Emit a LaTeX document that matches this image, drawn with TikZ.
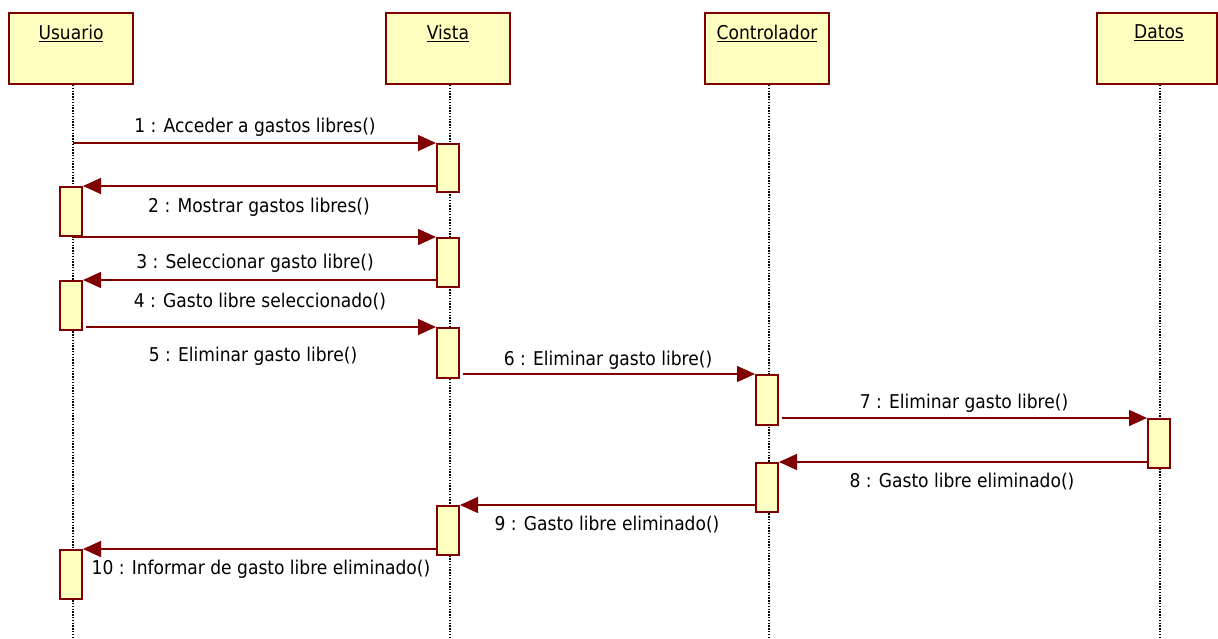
\documentclass[tikz,border=0pt]{standalone}
\usepackage{fontspec}
\setmainfont{DejaVu Sans Condensed}
\usetikzlibrary{arrows.meta}
\definecolor{umlred}{RGB}{128,0,0}
\definecolor{umlfill}{RGB}{255,255,192}
\begin{document}
\begin{tikzpicture}[x=1pt,y=-1pt,
  font=\fontsize{19}{22}\selectfont,
  head/.style={draw=umlred, fill=umlfill, line width=2pt, rectangle, inner sep=0pt,
               minimum width=124pt, minimum height=71pt, anchor=north},
  act/.style={draw=umlred, fill=umlfill, line width=2pt, rectangle, inner sep=0pt,
              minimum width=22pt, anchor=north},
  life/.style={line width=1.3pt, dash pattern=on 1.4pt off 1.4pt},
  msg/.style={draw=umlred, line width=1.5pt, -{Triangle[length=18pt,width=16pt]}, color=umlred},
  msglbl/.style={inner sep=0pt, anchor=center, text=black}]
\useasboundingbox (0,0) rectangle (1218,639);

% lifeline heads
\node[head] (usuario) at (71,12) {};
\node[head] (vista) at (448,12) {};
\node[head] (controlador) at (767,12) {};
\node[head, minimum width=120pt] (datos) at (1157,12) {};
\node[msglbl] (usuarioT) at (71,33) {\underline{Usuario}};
\node[msglbl] (vistaT) at (448,33) {\underline{Vista}};
\node[msglbl] (controladorT) at (767,33) {\underline{Controlador}};
\node[msglbl] (datosT) at (1159,33) {\underline{Datos}};

% lifelines
\coordinate (ul) at (73,639);
\coordinate (vl) at (450,639);
\coordinate (cl) at (769,639);
\coordinate (dl) at (1160,639);
\draw[life] (ul |- usuario.south) -- (ul);
\draw[life] (vl |- vista.south) -- (vl);
\draw[life] (cl |- controlador.south) -- (cl);
\draw[life] (dl |- datos.south) -- (dl);

% activation bars
\node[act, minimum height=48pt] (v1) at (448,143) {};
\node[act, minimum height=49pt] (u1) at (71,186) {};
\node[act, minimum height=49pt] (v2) at (448,237) {};
\node[act, minimum height=49pt] (u2) at (71,280) {};
\node[act, minimum height=50pt] (v3) at (448,327) {};
\node[act, minimum height=50pt] (c1) at (767,374) {};
\node[act, minimum height=49pt] (d1) at (1159,418) {};
\node[act, minimum height=49pt] (c2) at (767,462) {};
\node[act, minimum height=49pt] (v4) at (448,505) {};
\node[act, minimum height=49pt] (u3) at (71,549) {};

% messages
\draw[msg] (ul |- v1.north) -- (v1.north west);
\draw[msg] (v1.west |- u1.north) -- (u1.north east);
\draw[msg] (ul |- v2.north) -- (v2.north west);
\draw[msg] (v2.west |- u2.north) -- (u2.north east);
\draw[msg] ([xshift=3pt]u2.east |- v3.north) -- (v3.north west);
\draw[msg] ([xshift=3pt]v3.east |- c1.north) -- (c1.north west);
\draw[msg] ([xshift=3pt]c1.east |- d1.north) -- (d1.north west);
\draw[msg] (d1.west |- c2.north) -- (c2.north east);
\draw[msg] (c2.west |- v4.north) -- (v4.north east);
\draw[msg] (v4.west |- u3.north) -- (u3.north east);

% message labels
\node[msglbl] (m1) at (255,127) {1 : Acceder a gastos libres()};
\node[msglbl] (m2) at (259,207) {2 : Mostrar gastos libres()};
\node[msglbl] (m3) at (255,263) {3 : Seleccionar gasto libre()};
\node[msglbl] (m4) at (260,302) {4 : Gasto libre seleccionado()};
\node[msglbl] (m5) at (253,356) {5 : Eliminar gasto libre()};
\node[msglbl] (m6) at (608,360) {6 : Eliminar gasto libre()};
\node[msglbl] (m7) at (964,403) {7 : Eliminar gasto libre()};
\node[msglbl] (m8) at (962,482) {8 : Gasto libre eliminado()};
\node[msglbl] (m9) at (607,525) {9 : Gasto libre eliminado()};
\node[msglbl] (m10) at (261,569) {10 : Informar de gasto libre eliminado()};
\end{tikzpicture}
\end{document}
